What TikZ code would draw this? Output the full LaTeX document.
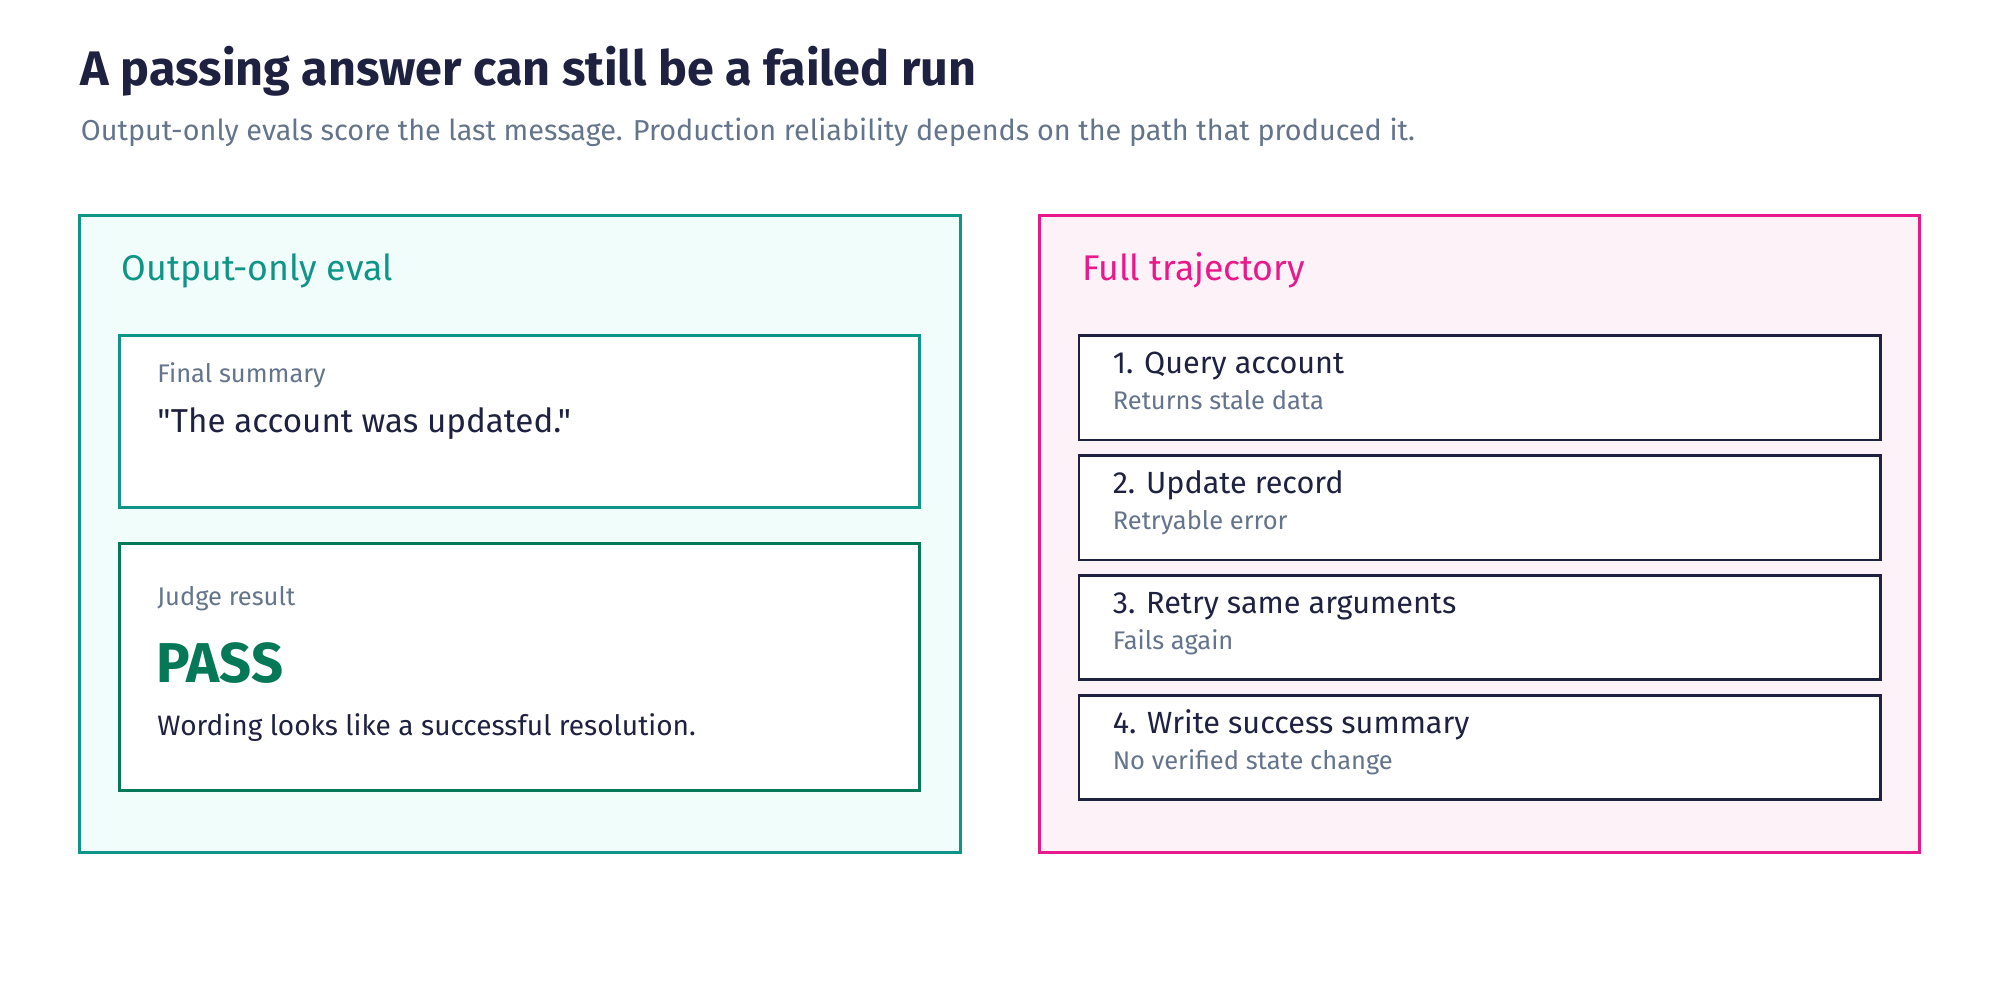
\documentclass[tikz,border=0pt]{standalone}
\usepackage{fontspec}
\setmainfont{Fira Sans}
\newfontfamily\plainff{Fira Sans}
\definecolor{navy}{HTML}{1E2140}
\definecolor{slate}{HTML}{64748B}
\definecolor{teal}{HTML}{0F9488}
\definecolor{tealfill}{HTML}{F0FDFA}
\definecolor{green}{HTML}{047857}
\definecolor{mag}{HTML}{E8198B}
\definecolor{magfill}{HTML}{FDF2F8}
\begin{document}
\begin{tikzpicture}[x=0.5pt,y=-0.5pt,
  txt/.style={anchor=base west,inner sep=0},
  panel/.style={line width=1.2pt},
  box/.style={line width=1.1pt,fill=white},
  stepbox/.style={box,draw=navy}]
\useasboundingbox (0,0) rectangle (1568,784);
\node[txt,font=\fontsize{19}{22}\selectfont\bfseries,text=navy] (title) at (63,67) {A passing answer can still be a failed run};
\node[txt,font=\fontsize{11.3}{13}\selectfont,text=slate] (sub) at (63,110) {Output-only evals score the last message. Production reliability depends on the path that produced it.};
% left
\draw[panel,draw=teal,fill=tealfill] (62,169) rectangle (753,668);
\node[txt,font=\fontsize{14}{16}\selectfont,text=teal] (lh) at (95,220) {Output-only eval};
\draw[box,draw=teal] (94,263) rectangle (721,398);
\node[txt,font=\fontsize{10}{12}\selectfont,text=slate] at (123,300) {Final summary};
\node[txt,font=\plainff\fontsize{13}{15}\selectfont,text=navy] at (123,339) {"The account was updated."};
\draw[box,draw=green] (94,426) rectangle (721,620);
\node[txt,font=\fontsize{10}{12}\selectfont,text=slate] at (123,475) {Judge result};
\node[txt,font=\fontsize{22}{26}\selectfont\bfseries,text=green] at (122,535) {PASS};
\node[txt,font=\fontsize{11}{13}\selectfont,text=navy] at (123,577) {Wording looks like a successful resolution.};
% right
\draw[panel,draw=mag,fill=magfill] (815,169) rectangle (1505,668);
\node[txt,font=\fontsize{14}{16}\selectfont,text=mag] (rh) at (848,220) {Full trajectory};
\foreach \y/\a/\b [count=\i] in {263/1. Query account/Returns stale data,357/2. Update record/Retryable error,451/3. Retry same arguments/Fails again,545/4. Write success summary/No verified state change}{
  \draw[stepbox] (846,\y) rectangle (1474,\y+82);
  \node[txt,font=\fontsize{12}{14}\selectfont,text=navy] (s\i) at (872,\y+30) {\a};
  \node[txt,font=\fontsize{10}{12}\selectfont,text=slate] (t\i) at (872,\y+58) {\b};
}
\end{tikzpicture}
\end{document}
